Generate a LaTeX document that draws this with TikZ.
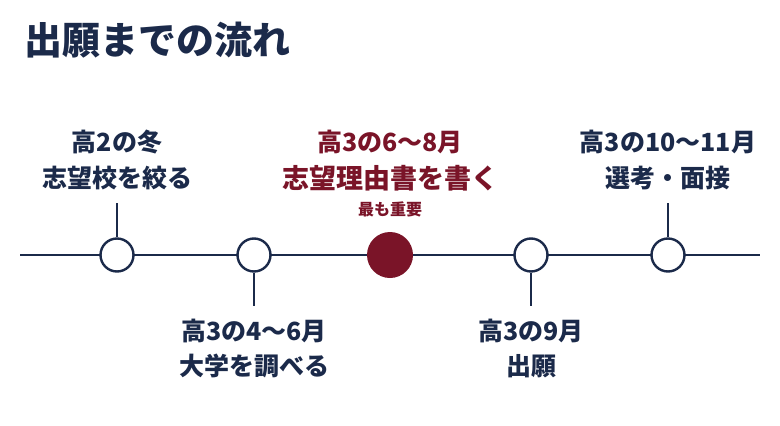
\documentclass[tikz,border=0pt]{standalone}
\usepackage{fontspec}
\setmainfont{Noto Sans CJK JP}
\definecolor{navy}{HTML}{1B2A4A}
\definecolor{wine}{HTML}{7A1428}
\begin{document}
\begin{tikzpicture}[x=1pt,y=-1pt,
  every node/.style={inner sep=0pt,font=\bfseries},
  lbl/.style={text=navy,font=\bfseries\fontsize{25}{28}\selectfont,anchor=center},
  ring/.style={circle,draw=navy,line width=2.4pt,fill=white,minimum size=33pt},
  tick/.style={draw=navy,line width=2.3pt},
]
\useasboundingbox (0,0) rectangle (780,426);
\node[text=navy,font=\bfseries\fontsize{38}{41}\selectfont,anchor=west] (title) at (24,40) {出願までの流れ};
\coordinate (L) at (20,255);
\coordinate (R) at (760,255);
\draw[navy,line width=2.3pt] (L) -- (R);
\node[ring] (c1) at (117,255) {};
\node[ring] (c2) at (254,255) {};
\node[circle,fill=wine,minimum size=46pt] (c3) at (390,255) {};
\node[ring] (c4) at (531,255) {};
\node[ring] (c5) at (668,255) {};
\coordinate (t1) at (117,203);
\coordinate (t2) at (254,306);
\coordinate (t4) at (531,306);
\coordinate (t5) at (668,203);
\draw[tick] (t1) -- (c1.north);
\draw[tick] (c2.south) -- (t2);
\draw[tick] (c4.south) -- (t4);
\draw[tick] (t5) -- (c5.north);
\node[lbl] (a1) at (117,142) {高2の冬};
\node[lbl] (a2) at (117,178) {志望校を絞る};
\node[lbl] (b1) at (254,331) {高3の4〜6月};
\node[lbl] (b2) at (254,366) {大学を調べる};
\node[lbl,text=wine] (r1) at (390,142) {高3の6〜8月};
\node[lbl,text=wine,font=\bfseries\fontsize{27}{30}\selectfont] (r2) at (390,178) {志望理由書を書く};
\node[lbl,text=wine,font=\bfseries\fontsize{16}{18}\selectfont] (r3) at (390,209) {最も重要};
\node[lbl] (d1) at (531,331) {高3の9月};
\node[lbl] (d2) at (531,366) {出願};
\node[lbl] (e1) at (668,142) {高3の10〜11月};
\node[lbl] (e2) at (668,178) {選考・面接};
\end{tikzpicture}
\end{document}
